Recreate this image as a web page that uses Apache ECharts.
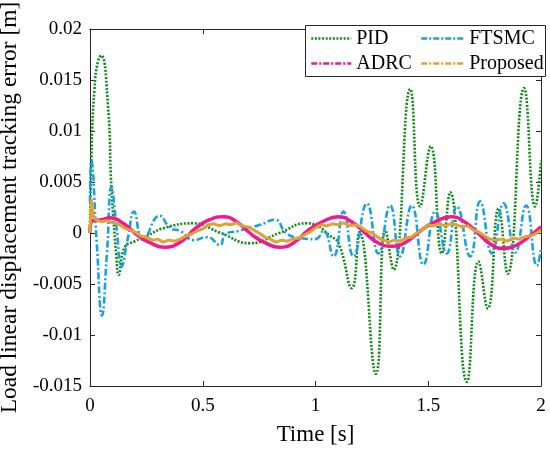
<!DOCTYPE html>
<html>
<head>
<meta charset="utf-8">
<script src="https://cdn.jsdelivr.net/npm/echarts@6/dist/echarts.min.js"></script>
<style>html,body{margin:0;padding:0;background:#fff}#c{width:550px;height:449px}</style>
</head>
<body>
<div id="c"></div>
<script>
// ---- data ----
var xTicks = [0, 0.5, 1, 1.5, 2];
var yTicks = [-0.015, -0.01, -0.005, 0, 0.005, 0.01, 0.015, 0.02];
var seriesNames = ['PID', 'FTSMC', 'ADRC', 'Proposed'];

var pidT = [0, 0.006, 0.02, 0.035, 0.05, 0.08, 0.095, 0.117, 0.127, 0.154, 0.2, 0.25, 0.33, 0.457, 0.58, 0.71, 0.84, 0.96, 1.0, 1.06, 1.102, 1.161, 1.195, 1.268, 1.31, 1.346, 1.42, 1.464, 1.511, 1.56, 1.597, 1.671, 1.723, 1.764, 1.812, 1.852, 1.925, 1.974, 2.0];
var pidV = [0, 0.0075, 0.0142, 0.0168, 0.0174, 0.0124, 0.0045, -0.0023, -0.0041, -0.0014, -0.0008, -0.0003, 0.0005, 0.00095, 0.0, -0.001, 0.0, 0.00095, 0.0008, -0.0002, -0.001, -0.0054, 0.0001, -0.0138, 0.0003, -0.0036, 0.0141, 0.0026, 0.0085, -0.002, 0.004, -0.0146, -0.0028, -0.0074, 0.0024, -0.004, 0.0142, 0.0026, 0.0071];

var ftsT = [0, 0.006, 0.03, 0.053, 0.075, 0.095, 0.118, 0.139, 0.168, 0.195, 0.235, 0.309, 0.355, 0.40, 0.46, 0.52, 0.577, 0.60, 0.66, 0.754, 0.82, 0.87, 0.93, 1.0, 1.035, 1.08, 1.124, 1.168, 1.228, 1.279, 1.331, 1.375, 1.427, 1.479, 1.531, 1.582, 1.627, 1.686, 1.73, 1.782, 1.834, 1.886, 1.934, 1.982, 2.0];
var ftsV = [0.003, 0.0071, -0.001, -0.0081, -0.002, 0.0045, 0.0005, -0.0033, -0.0005, 0.0021, -0.0007, 0.0017, 0.0005, 0.0002, -0.0007, -0.0004, -0.0012, -0.0001, 0.0002, 0.0008, 0.0013, 0.0, -0.0005, -0.0006, 0.0002, -0.0023, 0.0021, -0.0023, 0.0029, -0.002, 0.0027, -0.0023, 0.0027, -0.0031, 0.0021, -0.002, 0.0026, -0.0023, 0.0031, -0.002, 0.0029, -0.0019, 0.0027, -0.0032, -0.0015];

var adrcT = [0, 0.01, 0.05, 0.09, 0.15, 0.21, 0.27, 0.33, 0.4, 0.47, 0.53, 0.59, 0.65, 0.72, 0.78, 0.84, 0.9, 0.97, 1.03, 1.1, 1.16, 1.22, 1.28, 1.34, 1.4, 1.47, 1.53, 1.6, 1.66, 1.72, 1.77, 1.83, 1.89, 1.95, 2.0];
var adrcV = [0, 0.0012, 0.0013, 0.0015, 0.0009, -0.0002, -0.001, -0.0014, -0.0009, 0.0005, 0.0013, 0.0016, 0.0011, -0.0002, -0.001, -0.0014, -0.001, 0.0003, 0.0011, 0.0016, 0.0011, 0.0, -0.001, -0.0013, -0.0009, 0.0003, 0.0011, 0.0016, 0.0011, 0.0, -0.001, -0.0015, -0.0012, -0.0003, 0.0006];

var propT = [0, 0.006, 0.015, 0.025, 0.05, 0.075, 0.1, 0.125, 0.15, 0.175, 0.2, 0.225, 0.25, 0.275, 0.3, 0.325, 0.35, 0.375, 0.4, 0.425, 0.45, 0.475, 0.5, 0.525, 0.55, 0.575, 0.6, 0.625, 0.65, 0.675, 0.7, 0.725, 0.75, 0.775, 0.8, 0.825, 0.85, 0.875, 0.9, 0.925, 0.95, 0.975, 1.0, 1.025, 1.05, 1.075, 1.1, 1.125, 1.15, 1.175, 1.2, 1.225, 1.25, 1.275, 1.3, 1.325, 1.35, 1.375, 1.4, 1.425, 1.45, 1.475, 1.5, 1.525, 1.55, 1.575, 1.6, 1.625, 1.65, 1.675, 1.7, 1.725, 1.75, 1.775, 1.8, 1.825, 1.85, 1.875, 1.9, 1.925, 1.95, 1.975, 2.0];
var propV = [0, 0.0032, 0.0017, 0.0013, 0.0011, 0.0012, 0.001, 0.0009, 0.0005, 0.0003, 0.0001, -0.0003, -0.0004, -0.0007, -0.0006, -0.0009, -0.0007, -0.0008, -0.0006, -0.0003, -0.0001, 0.0002, 0.0004, 0.0008, 0.0009, 0.0007, 0.0009, 0.0008, 0.001, 0.0007, 0.0006, 0.0003, 0.0, -0.0004, -0.0006, -0.0009, -0.0007, -0.0008, -0.0006, -0.0005, -0.0002, 0.0001, 0.0005, 0.0008, 0.0007, 0.0009, 0.0008, 0.001, 0.0007, 0.0008, 0.0006, 0.0002, 0.0, -0.0004, -0.0007, -0.0009, -0.0007, -0.0008, -0.0005, -0.0004, 0.0, 0.0004, 0.0008, 0.0007, 0.0009, 0.0007, 0.0009, 0.0008, 0.0006, 0.0007, 0.0003, 0.0001, -0.0003, -0.0006, -0.0007, -0.0006, -0.0008, -0.0005, -0.0006, -0.0004, -0.0003, -0.0001, 0.0003];

function pairs(t, v) { return t.map(function (x, i) { return [x, v[i]]; }); }

var FONT = 'Liberation Serif, Times New Roman, serif';
var AX = '#262626';
var colors = { PID: '#0E8A16', FTSMC: '#1BA1E2', ADRC: '#F5178C', Proposed: '#DEA236' };

var chart = echarts.init(document.getElementById('c'), null, { renderer: 'canvas' });

function fmtY(v) { return String(parseFloat(v.toFixed(4))); }

var baseX = {
  type: 'value', min: 0, max: 2, interval: 0.5,
  axisLine: { show: true, onZero: false, lineStyle: { color: AX, width: 1 } },
  axisTick: { show: true, inside: true, length: 5, lineStyle: { color: AX } },
  splitLine: { show: false }
};
var baseY = {
  type: 'value', min: -0.015, max: 0.02, interval: 0.005,
  axisLine: { show: true, onZero: false, lineStyle: { color: AX, width: 1 } },
  axisTick: { show: true, inside: true, length: 5, lineStyle: { color: AX } },
  splitLine: { show: false }
};
var noSym = { opacity: 0 };

var option = {
  backgroundColor: '#fff',
  animation: false,
  grid: { left: 90, right: 9, top: 29, bottom: 63, containLabel: false, outerBoundsMode: 'none' },
  xAxis: [
    Object.assign({}, baseX, {
      position: 'bottom',
      axisLabel: { color: '#000', fontFamily: FONT, fontSize: 19, margin: 11,
        formatter: function (v) { return xTicks.indexOf(v) >= 0 ? String(v) : ''; } },
      name: 'Time [s]', nameLocation: 'middle', nameGap: 37,
      nameTextStyle: { color: '#000', fontFamily: FONT, fontSize: 23 }
    }),
    Object.assign({}, baseX, { position: 'top', axisLabel: { show: false } })
  ],
  yAxis: [
    Object.assign({}, baseY, {
      position: 'left',
      axisLabel: { color: '#000', fontFamily: FONT, fontSize: 19, margin: 8, formatter: fmtY },
      name: 'Load linear displacement tracking error [m]', nameLocation: 'middle', nameGap: 66,
      nameTextStyle: { color: '#000', fontFamily: FONT, fontSize: 23.5 }
    }),
    Object.assign({}, baseY, { position: 'right', axisLabel: { show: false } })
  ],
  graphic: { elements: [{
    type: 'rect', z: 50, silent: true,
    shape: { x: 305.5, y: 25.5, width: 240, height: 51 },
    style: { fill: '#fff', stroke: AX, lineWidth: 1 }
  }] },
  legend: [
    {
      z: 60, orient: 'vertical', left: 310, top: 27.5, padding: 0, itemGap: 3,
      itemWidth: 40, itemHeight: 14,
      textStyle: { color: '#000', fontFamily: FONT, fontSize: 20, lineHeight: 22 },
      data: [
        { name: 'PID', itemStyle: noSym, lineStyle: { type: [2, 1.6], width: 2.5, color: colors.PID } },
        { name: 'ADRC', itemStyle: noSym, lineStyle: { type: [6, 2, 2, 2], width: 2.5, color: colors.ADRC } }
      ]
    },
    {
      z: 60, orient: 'vertical', left: 420, top: 27.5, padding: 0, itemGap: 3,
      itemWidth: 43, itemHeight: 14,
      textStyle: { color: '#000', fontFamily: FONT, fontSize: 20, lineHeight: 22 },
      data: [
        { name: 'FTSMC', itemStyle: noSym, lineStyle: { type: [6, 2, 2, 2], width: 2.5, color: colors.FTSMC } },
        { name: 'Proposed', itemStyle: noSym, lineStyle: { type: [6, 2, 2, 2], width: 2.5, color: colors.Proposed } }
      ]
    }
  ],
  series: [
    { name: 'PID', type: 'line', data: pairs(pidT, pidV), symbol: 'none', smooth: 0.5, z: 2,
      lineStyle: { color: colors.PID, width: 2.6, type: [2, 1.6] }, itemStyle: { color: colors.PID } },
    { name: 'FTSMC', type: 'line', data: pairs(ftsT, ftsV), symbol: 'none', smooth: 0.5, z: 3,
      lineStyle: { color: colors.FTSMC, width: 2.6, type: [7, 2.5, 2, 2.5] }, itemStyle: { color: colors.FTSMC } },
    { name: 'ADRC', type: 'line', data: pairs(adrcT, adrcV), symbol: 'none', smooth: 0.5, z: 4,
      lineStyle: { color: colors.ADRC, width: 3.5, type: 'solid' }, itemStyle: { color: colors.ADRC } },
    { name: 'Proposed', type: 'line', data: pairs(propT, propV), symbol: 'none', smooth: false, z: 5,
      lineStyle: { color: colors.Proposed, width: 3, type: 'solid', join: 'round' }, itemStyle: { color: colors.Proposed } }
  ]
};
chart.setOption(option);
</script>
</body>
</html>
